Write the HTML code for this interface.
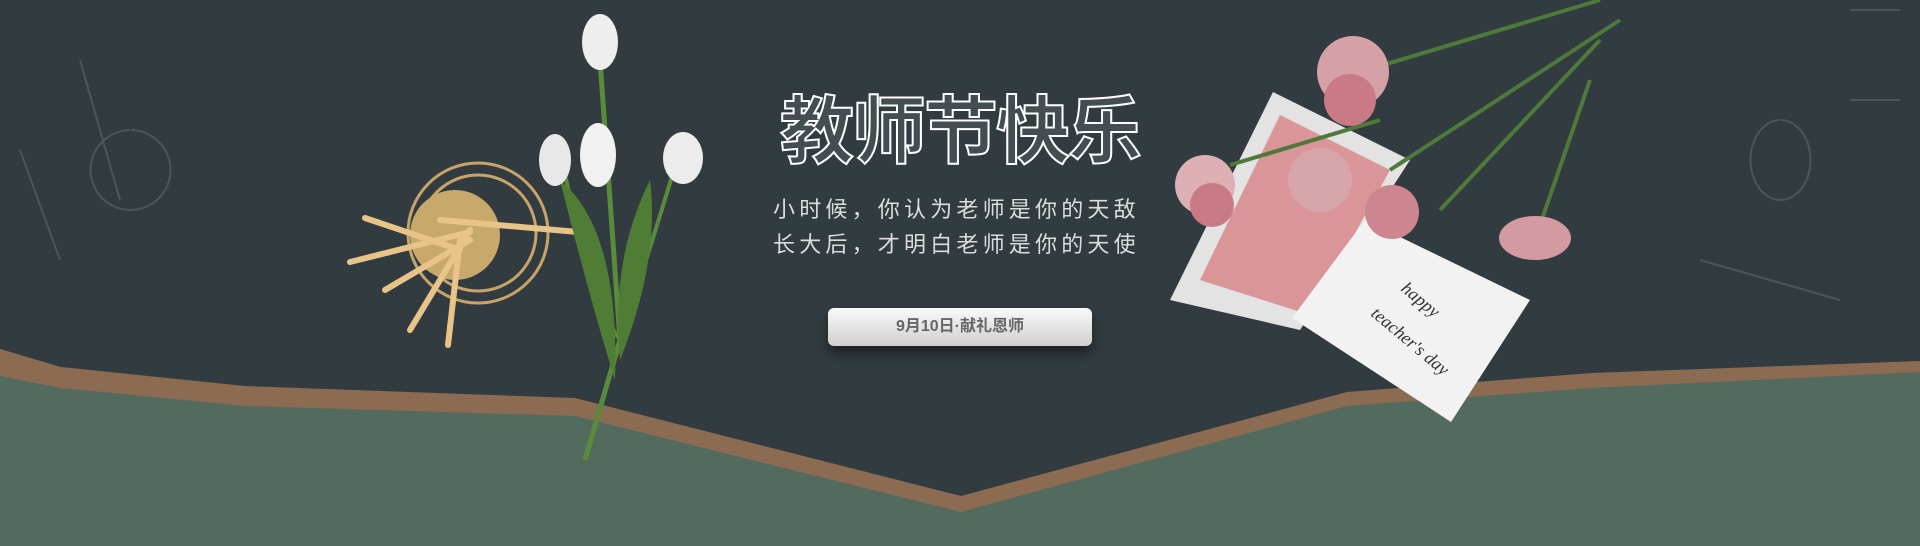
<!DOCTYPE html>
<html lang="zh"><head><meta charset="utf-8">
<style>
html,body{margin:0;padding:0}
body{width:1920px;height:546px;overflow:hidden;background:#536a5f;position:relative;font-family:"Liberation Sans","Noto Sans CJK SC",sans-serif}
svg.bg{position:absolute;left:0;top:0}
.title{position:absolute;left:760px;top:78px;width:400px;text-align:center;font-size:74px;font-weight:700;color:rgba(80,90,95,.6);-webkit-text-stroke:2px #fff;letter-spacing:-2px;line-height:96px;font-family:"Noto Sans CJK SC",sans-serif}
.sub{position:absolute;left:773px;width:380px;font-size:22px;color:#ddd;letter-spacing:4.2px;line-height:30px;white-space:nowrap}
.pill{position:absolute;left:828px;top:308px;width:264px;height:38px;border-radius:6px;background:linear-gradient(#fafafa,#e0e0e0 60%,#cfcfcf);box-shadow:0 8px 12px rgba(0,0,0,.45);text-align:center;line-height:38px;font-size:16px;font-weight:700;color:#666}
</style></head><body>
<svg class="bg" width="1920" height="546">
  <polygon fill="#8b6b52" points="0,340 61,358 245,377 575,389 961,487 1347,383 1592,364 1920,352 1920,372 1592,388 1347,406 961,512 575,416 245,406 61,388 0,376"/>
  <polygon fill="#323c40" points="0,0 1920,0 1920,361 1592,373 1347,392 961,496 575,398 245,386 61,367 0,349"/>
  <g stroke="#4b5659" fill="none" stroke-width="2">
    <path d="M20,150 L60,260 M80,60 L120,200 M130,130 a40,40 0 1 0 1,0"/>
    <path d="M1780,120 a30,40 0 1 0 1,0 M1700,260 L1840,300 M1850,10 L1900,10 M1850,100 L1900,100"/>
  </g>
  <g>
    <circle cx="478" cy="233" r="70" fill="none" stroke="#c9a46a" stroke-width="3"/>
    <circle cx="478" cy="233" r="58" fill="none" stroke="#c9a46a" stroke-width="3"/>
    <circle cx="455" cy="235" r="45" fill="#c8a96c"/>
    <g stroke="#e9c489" stroke-width="6" stroke-linecap="round">
      <line x1="350" y1="262" x2="470" y2="232"/><line x1="440" y1="220" x2="578" y2="232"/>
      <line x1="410" y1="330" x2="470" y2="230"/><line x1="448" y1="345" x2="460" y2="240"/>
      <line x1="385" y1="290" x2="470" y2="240"/><line x1="365" y1="218" x2="460" y2="250"/>
    </g>
  </g>
  <g>
    <path d="M600,60 L620,340 L585,460" stroke="#5a8a3c" stroke-width="5" fill="none"/>
    <path d="M560,150 Q590,300 620,340 Q650,250 680,150" stroke="#5a8a3c" stroke-width="4" fill="none"/>
    <path d="M560,180 Q620,230 615,380 Q590,300 560,180Z M650,180 Q610,260 620,360 Q660,260 650,180Z" fill="#4f7d35"/>
    <ellipse cx="600" cy="42" rx="18" ry="28" fill="#eeeeee"/>
    <ellipse cx="598" cy="155" rx="18" ry="32" fill="#f1f1f1"/>
    <ellipse cx="555" cy="160" rx="16" ry="26" fill="#e8e8e8"/>
    <ellipse cx="683" cy="158" rx="20" ry="26" fill="#ececec"/>
  </g>
  <g>
    <polygon points="1170,300 1273,92 1410,160 1300,330" fill="#e3e3e3"/>
    <polygon points="1200,280 1280,115 1390,170 1310,315" fill="#d99597"/>
    <polygon points="1292,318 1365,220 1530,300 1451,422" fill="#f2f2f2"/>
    <text x="1400" y="290" transform="rotate(40 1400 290)" font-family="Liberation Serif,serif" font-style="italic" font-size="18" fill="#333">happy</text>
    <text x="1370" y="315" transform="rotate(40 1370 315)" font-family="Liberation Serif,serif" font-style="italic" font-size="18" fill="#333">teacher's day</text>
  </g>
  <g>
    <path d="M1350,75 L1600,0 M1390,170 L1620,20 M1440,210 L1600,40 M1540,225 L1590,80 M1230,165 L1380,120" stroke="#4d7a3a" stroke-width="4" fill="none"/>
    <circle cx="1353" cy="72" r="36" fill="#d5a0a6"/><circle cx="1350" cy="100" r="26" fill="#c97a85"/>
    <circle cx="1205" cy="185" r="30" fill="#dcb0b5"/><circle cx="1212" cy="205" r="22" fill="#c87a85"/>
    <circle cx="1320" cy="180" r="32" fill="#d7a4aa"/><circle cx="1392" cy="212" r="27" fill="#cd8590"/>
    <ellipse cx="1535" cy="238" rx="36" ry="22" fill="#d49aa1"/>
  </g>
</svg>
<div class="title">教师节快乐</div>
<div class="sub" style="top:195px">小时候，你认为老师是你的天敌</div>
<div class="sub" style="top:230px">长大后，才明白老师是你的天使</div>
<div class="pill">9月10日·献礼恩师</div>
</body></html>
